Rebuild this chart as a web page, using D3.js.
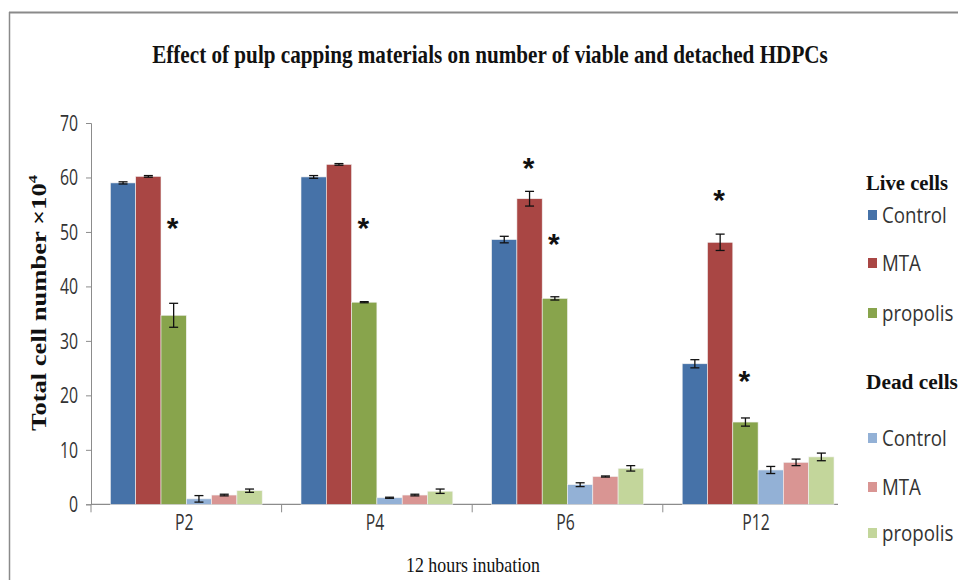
<!DOCTYPE html>
<html>
<head>
<meta charset="utf-8">
<script src="https://cdn.jsdelivr.net/npm/d3@7/dist/d3.min.js"></script>
<style>
  html, body { margin: 0; padding: 0; background: #fff; }
  svg { display: block; }
</style>
</head>
<body>
<svg id="chart" width="958" height="580"></svg>
<script>
// Passages
const categories = ["P2", "P4", "P6", "P12"];

// Series names (live cells first, then dead cells)
const seriesKeys = ["liveControl", "liveMTA", "livePropolis", "deadControl", "deadMTA", "deadPropolis"];
const seriesLabels = ["Control", "MTA", "propolis", "Control", "MTA", "propolis"];

// Mean values (×10^4 cells), one entry per passage
const liveControl  = [59.0, 60.1, 48.6, 25.8];
const liveMTA      = [60.2, 62.4, 56.1, 48.1];
const livePropolis = [34.7, 37.1, 37.8, 15.1];
const deadControl  = [1.0, 1.2, 3.6, 6.3];
const deadMTA      = [1.7, 1.7, 5.1, 7.7];
const deadPropolis = [2.5, 2.4, 6.6, 8.7];

// Standard deviations
const liveControlErr  = [0.2, 0.25, 0.6, 0.75];
const liveMTAErr      = [0.15, 0.15, 1.35, 1.5];
const livePropolisErr = [2.2, 0.1, 0.3, 0.75];
const deadControlErr  = [0.6, 0.1, 0.35, 0.65];
const deadMTAErr      = [0.15, 0.15, 0.1, 0.6];
const deadPropolisErr = [0.3, 0.4, 0.5, 0.7];

// Significance markers: passage, series and the height (in axis units) of the asterisk
const starCategory = ["P2", "P4", "P6", "P6", "P12", "P12"];
const starSeries   = ["livePropolis", "livePropolis", "liveMTA", "livePropolis", "liveMTA", "livePropolis"];
const starLevel    = [51.5, 51.5, 62.4, 48.6, 56.6, 23.3];

const yTicks = [0, 10, 20, 30, 40, 50, 60, 70];

const colors = ["#4672a8", "#a94644", "#88a44c", "#93b1d6", "#d99593", "#c3d69b"];

const valuesBySeries = [liveControl, liveMTA, livePropolis, deadControl, deadMTA, deadPropolis];
const errBySeries = [liveControlErr, liveMTAErr, livePropolisErr, deadControlErr, deadMTAErr, deadPropolisErr];

const rows = [];
categories.forEach((c, ci) => {
  seriesKeys.forEach((k, si) => {
    rows.push({ cat: c, key: k, value: valuesBySeries[si][ci], err: errBySeries[si][ci], color: colors[si] });
  });
});

const svg = d3.select("#chart");
const sansFont = "'Open Sans', 'Liberation Sans', sans-serif";
const serifFont = "'Liberation Serif', serif";

// Horizontally condensed text: x is given in page units
function narrow(sel, x, sx) {
  return sel.attr("x", x / sx).attr("transform", `scale(${sx},1)`);
}

// Squeeze a text horizontally so it spans the given width, starting at x (anchor start)
// or centred on x (anchor middle)
function fitWidth(sel, x, yPos, width, anchor) {
  const natural = sel.node().getComputedTextLength();
  const sx = width / natural;
  sel.attr("text-anchor", anchor).attr("x", x / sx).attr("y", yPos)
    .attr("transform", `scale(${sx},1)`);
  return sel;
}

// Outer frame (top and left edges)
svg.append("line").attr("x1", 9).attr("x2", 958).attr("y1", 12.5).attr("y2", 12.5)
  .attr("stroke", "#8a8a8a").attr("stroke-width", 2);
svg.append("line").attr("x1", 9.5).attr("x2", 9.5).attr("y1", 12).attr("y2", 580)
  .attr("stroke", "#8a8a8a").attr("stroke-width", 1.5);

const plotLeft = 91, plotTop = 123, plotBottom = 504.3;
const bandWidth = 190.6;

const x0 = d3.scaleBand().domain(categories)
  .range([plotLeft, plotLeft + bandWidth * categories.length])
  .paddingInner(0).paddingOuter(0);
const x1 = d3.scaleBand().domain(seriesKeys)
  .range([0, x0.bandwidth()])
  .paddingInner(0).paddingOuter(0.767);
const y = d3.scaleLinear().domain([0, 70]).range([plotBottom, plotTop]);

const axisColor = "#8c8c8c";

// Y axis
const yAxis = svg.append("g").attr("transform", `translate(${plotLeft},0)`)
  .call(d3.axisLeft(y).tickValues(yTicks).tickSize(5).tickPadding(9).tickFormat(d3.format("d")));
yAxis.select(".domain").attr("stroke", axisColor);
yAxis.selectAll(".tick line").attr("stroke", axisColor);
yAxis.selectAll(".tick text")
  .attr("font-family", sansFont)
  .attr("font-size", 22).attr("fill", "#333")
  .attr("dy", "0.34em")
  .each(function () { narrow(d3.select(this), -13, 0.72); });

// X axis baseline and category separators
svg.append("line").attr("x1", plotLeft).attr("x2", 838)
  .attr("y1", plotBottom).attr("y2", plotBottom)
  .attr("stroke", axisColor).attr("stroke-width", 1.2);
const sepX = categories.map(c => x0(c));
svg.selectAll(".sep").data(sepX).join("line")
  .attr("x1", d => d).attr("x2", d => d)
  .attr("y1", plotBottom).attr("y2", plotBottom + 8)
  .attr("stroke", axisColor);

svg.selectAll(".catlabel").data(categories).join("text")
  .attr("y", 530)
  .attr("text-anchor", "middle")
  .attr("font-family", sansFont)
  .attr("font-size", 21).attr("fill", "#333")
  .each(function (d) { narrow(d3.select(this), x0(d) + bandWidth / 2 - 2, 0.75); })
  .text(d => d);

// Bars
const g = svg.append("g");
g.selectAll("rect").data(rows).join("rect")
  .attr("x", d => x0(d.cat) + x1(d.key))
  .attr("y", d => y(d.value))
  .attr("width", x1.bandwidth())
  .attr("height", d => y(0) - y(d.value))
  .attr("fill", d => d.color)
  .attr("stroke", "#f2f2f2").attr("stroke-width", 0.6);

// Error bars
const eb = svg.append("g").attr("stroke", "#111").attr("stroke-width", 1.3);
rows.forEach(d => {
  const cx = x0(d.cat) + x1(d.key) + x1.bandwidth() / 2;
  const top = y(d.value + d.err), bot = y(d.value - d.err);
  eb.append("line").attr("x1", cx).attr("x2", cx).attr("y1", top).attr("y2", bot);
  eb.append("line").attr("x1", cx - 4.5).attr("x2", cx + 4.5).attr("y1", top).attr("y2", top);
  eb.append("line").attr("x1", cx - 4.5).attr("x2", cx + 4.5).attr("y1", bot).attr("y2", bot);
});

// Asterisks
svg.selectAll(".star").data(starLevel).join("text")
  .attr("x", (d, i) => x0(starCategory[i]) + x1(starSeries[i]) + x1.bandwidth() / 2 - 1)
  .attr("y", d => y(d) + 14)
  .attr("text-anchor", "middle")
  .attr("font-family", "'Liberation Sans', sans-serif")
  .attr("font-weight", "bold")
  .attr("font-size", 30).attr("fill", "#111")
  .text("*");

// Title
const title = svg.append("text")
  .attr("font-family", serifFont)
  .attr("font-weight", "bold").attr("font-size", 26).attr("fill", "#111")
  .text("Effect of pulp capping materials on number of viable and detached HDPCs");
fitWidth(title, 490, 63, 676, "middle");

// Y axis title
const ytG = svg.append("g").attr("transform", "translate(46,303) rotate(-90)");
const yt = ytG.append("text")
  .attr("font-family", serifFont)
  .attr("font-weight", "bold").attr("font-size", 21)
  .attr("fill", "#111");
yt.append("tspan").text("Total cell number  \u00d710");
yt.append("tspan").attr("font-size", 13).attr("dy", -9).text("4");
fitWidth(yt, 0, 0, 256, "middle");

// X axis title
const xt = svg.append("text")
  .attr("font-family", serifFont)
  .attr("font-size", 21).attr("fill", "#111")
  .text("12 hours inubation");
fitWidth(xt, 473, 572, 134, "middle");

// Legend
const legendGroups = ["Live cells", "Dead cells"];
const legendHeadY = [190, 389];
const legendHeadW = [82, 92];
const legendItemY = [215, 263, 313, 438, 487, 533];
const lg = svg.append("g");
lg.selectAll(".lh").data(legendGroups).join("text")
  .attr("font-family", serifFont)
  .attr("font-weight", "bold").attr("font-size", 21).attr("fill", "#111")
  .text(d => d)
  .each(function (d, i) { fitWidth(d3.select(this), 866, legendHeadY[i], legendHeadW[i], "start"); });
lg.selectAll("rect").data(seriesKeys).join("rect")
  .attr("x", 868).attr("y", (d, i) => legendItemY[i] - 5)
  .attr("width", 9).attr("height", 10)
  .attr("fill", (d, i) => colors[i]);
lg.selectAll(".li").data(seriesKeys).join("text")
  .attr("y", (d, i) => legendItemY[i] + 8)
  .attr("font-family", sansFont)
  .attr("font-size", 22).attr("fill", "#333")
  .each(function () { narrow(d3.select(this), 882, 0.85); })
  .text((d, i) => seriesLabels[i]);
</script>
</body>
</html>
